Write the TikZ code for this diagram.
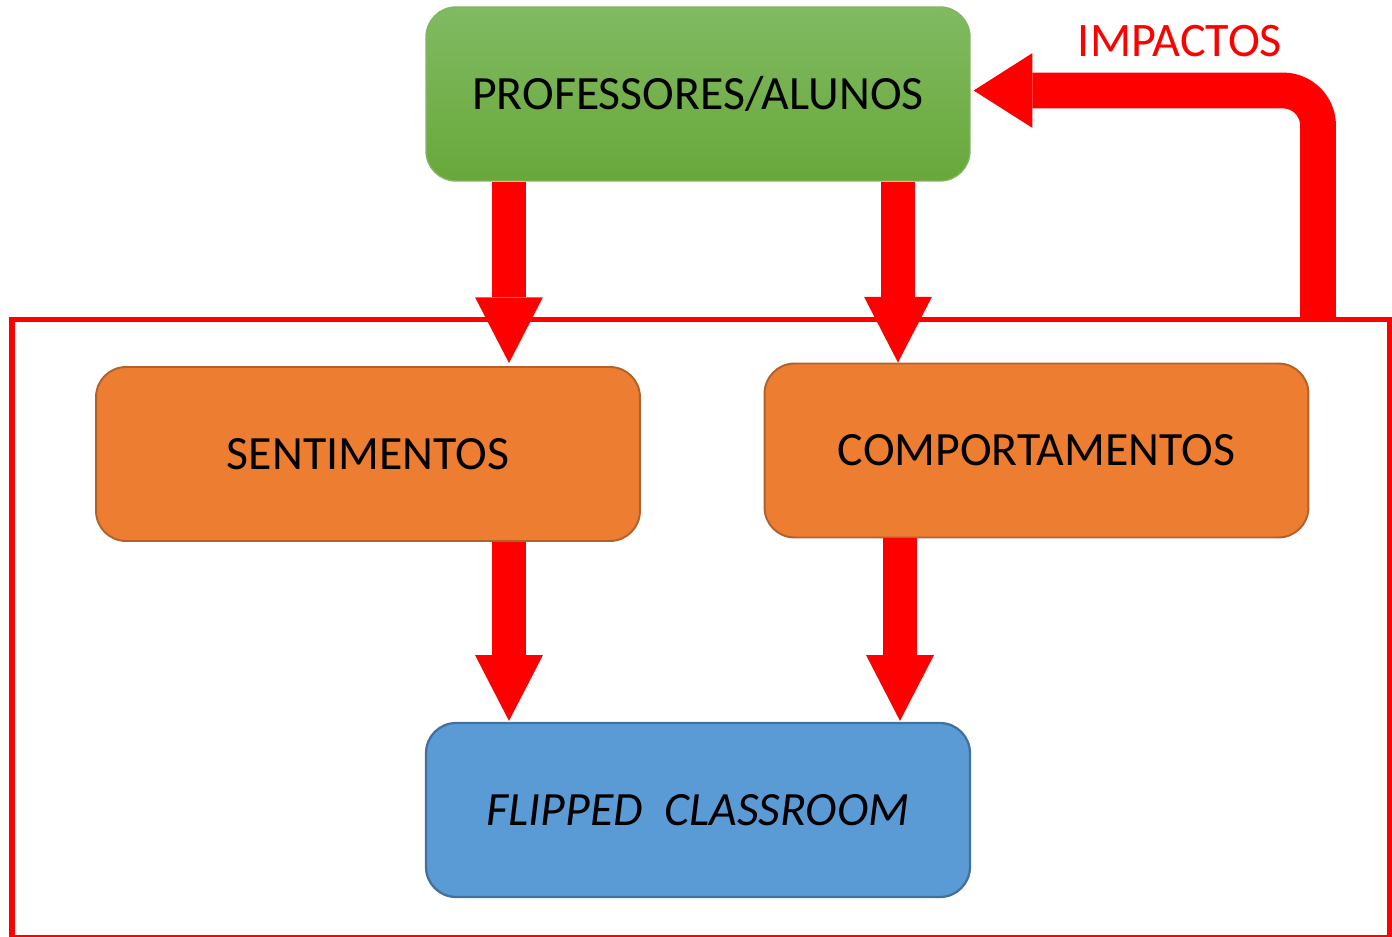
\documentclass[tikz,border=0pt]{standalone}
\usepackage{fontspec}
\setmainfont{Carlito}
\usetikzlibrary{arrows.meta,calc}
\definecolor{boxorange}{HTML}{ED7D31}
\definecolor{orangeline}{HTML}{B2612A}
\definecolor{boxblue}{HTML}{5B9BD5}
\definecolor{blueline}{HTML}{41719C}
\definecolor{greentop}{RGB}{129,186,98}
\definecolor{greenbot}{RGB}{104,168,58}
\definecolor{greenline}{RGB}{130,180,95}
\definecolor{pured}{RGB}{255,0,0}
\tikzset{
  box/.style={rectangle, rounded corners=0.6cm, minimum width=10.88cm, minimum height=3.48cm,
    inner sep=0pt, font=\fontsize{27.2}{32}\selectfont, text=black},
  greenbox/.style={box, top color=greentop, bottom color=greenbot, draw=greenline, line width=0.8pt},
  orangebox/.style={box, fill=boxorange, draw=orangeline, line width=1.1pt},
  bluebox/.style={box, fill=boxblue, draw=blueline, line width=1.3pt},
  bigarrow/.style={draw=pured, line width=19.3pt,
    -{Triangle[width=38.6pt,length=37.4pt,line width=0pt]}},
  impactarrow/.style={draw=pured, line width=20.4pt, rounded corners=0.7cm,
    -{Triangle[width=42.5pt,length=33.4pt,line width=0pt]}},
  framebox/.style={draw=pured, line width=3.4pt},
  redlabel/.style={text=pured, font=\fontsize{27.4}{32}\selectfont, inner sep=0pt}
}
\begin{document}
\begin{tikzpicture}[x=0.02cm, y=-0.02cm]
\useasboundingbox (0,0) rectangle (1392,936);
\clip (0,0) rectangle (1392,936);
% frame
\coordinate (frameNW) at (12,319.5);
\coordinate (frameSE) at (1390,938);
\draw[framebox] (frameNW) rectangle (frameSE);
% boxes
\node[greenbox] (prof) at (698,94) {PROFESSORES/ALUNOS};
\node[orangebox] (sent) at (368,454) {SENTIMENTOS};
\node[orangebox] (comp) at (1036.5,450.5) {COMPORTAMENTOS};
\node[bluebox] (flip) at (698,810) {\itshape FLIPPED~ CLASSROOM};
% arrow columns
\coordinate (c1) at (509,0);
\coordinate (c2) at (898,0);
\coordinate (c3) at (509,0);
\coordinate (c4) at (900,0);
\coordinate (impx) at (1318,0);
\draw[bigarrow] (prof.south -| c1) -- ($(sent.north -| c1)+(0,-3)$);
\draw[bigarrow] (prof.south -| c2) -- (comp.north -| c2);
\draw[bigarrow] (sent.south -| c3) -- ($(flip.north -| c3)+(0,-1)$);
\draw[bigarrow] (comp.south -| c4) -- ($(flip.north -| c4)+(0,-1)$);
% impact arrow
\draw[impactarrow] (impx |- frameNW) |- ($(prof.east)+(3,-3.5)$);
\node[redlabel] (impl) at (1180,41.5) {IMPACTOS};
\end{tikzpicture}
\end{document}
